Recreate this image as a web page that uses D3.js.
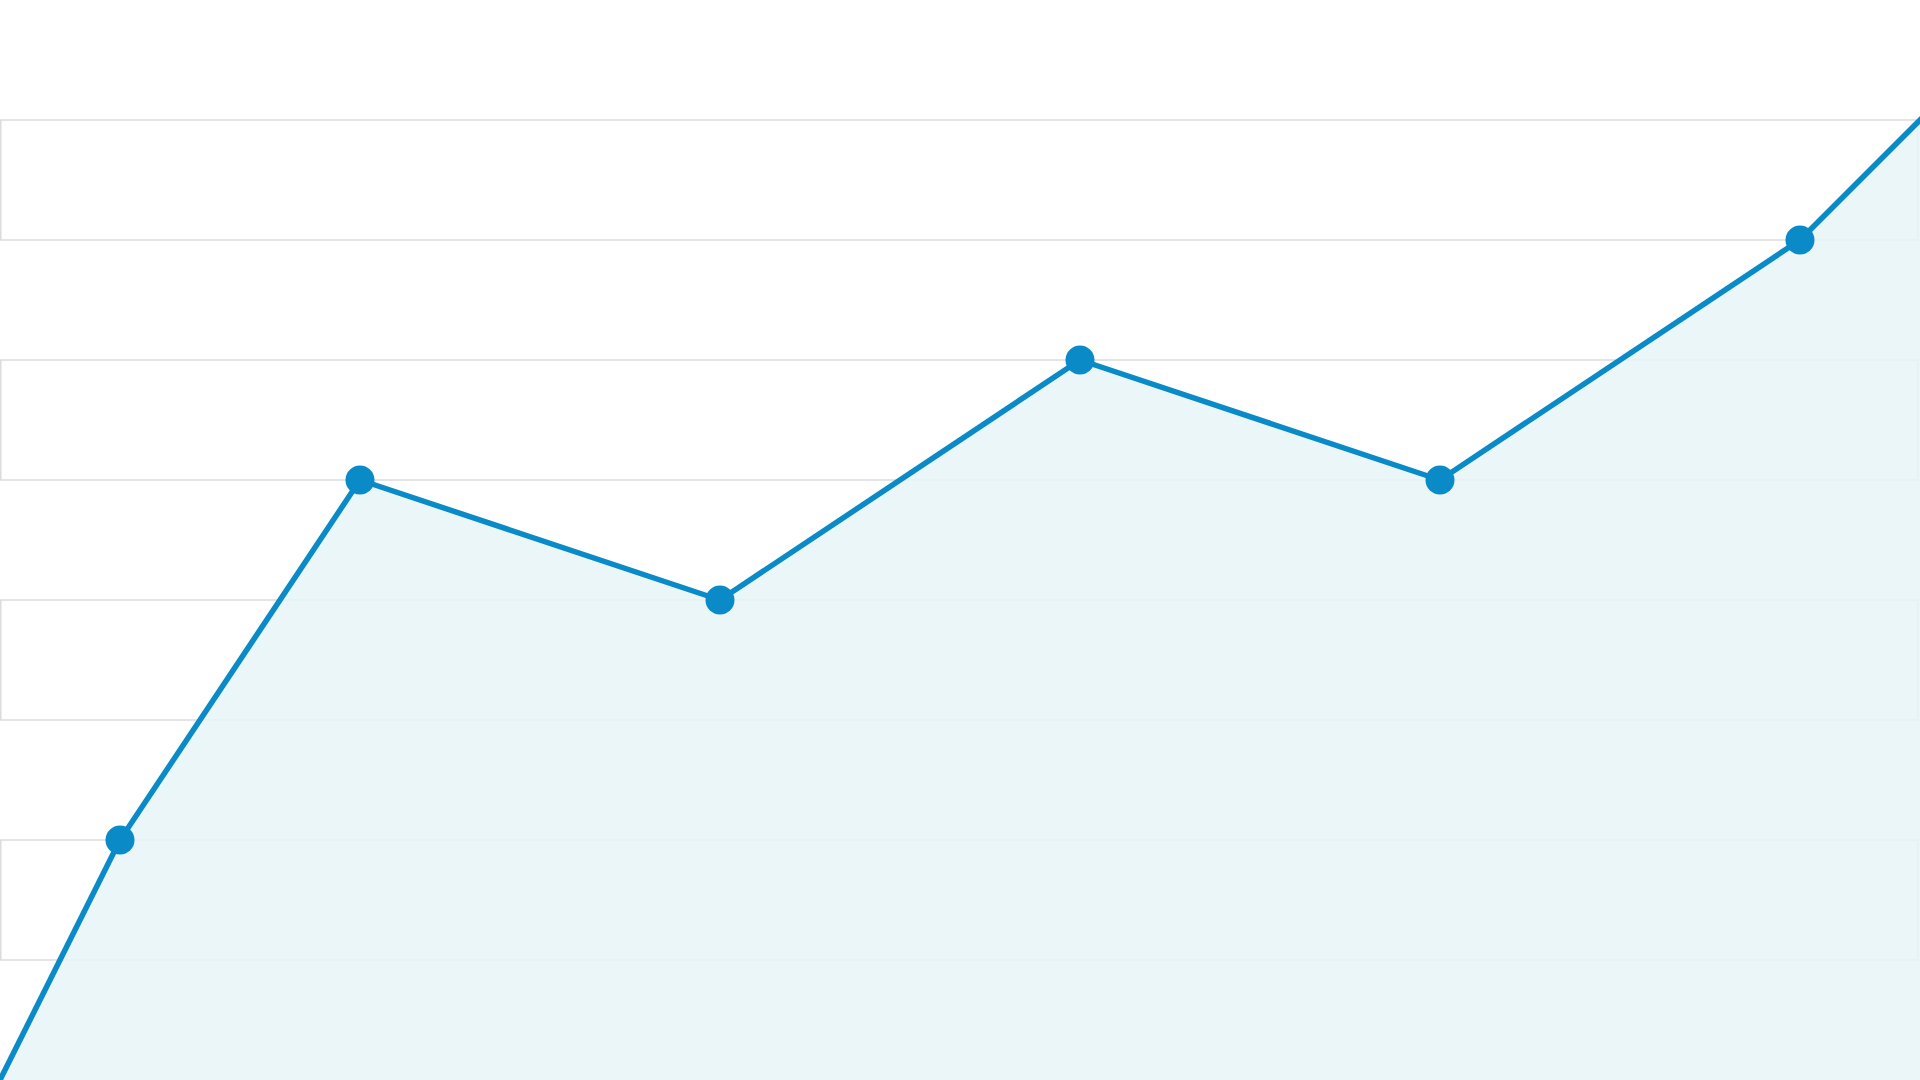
<!DOCTYPE html>
<html>
<head>
<meta charset="utf-8">
<script src="https://cdn.jsdelivr.net/npm/d3@7"></script>
<style>
html, body { margin: 0; padding: 0; background: #ffffff; overflow: hidden; }
</style>
</head>
<body>
<div id="chart"></div>
<script>
// x position of each sample (the first and last ones lie outside the visible plot)
var xValues = [-1, 1, 3, 6, 9, 12, 15, 17];
var yValues = [-20, 20, 50, 40, 60, 50, 70, 90];
// samples that get a dot
var dotIndex = [1, 2, 3, 4, 5, 6];
var yTicks = [10, 20, 30, 40, 50, 60, 70, 80];
// stripe bands drawn as outlined rectangles
var bandStarts = [10, 30, 50, 70];

function drawAreaChart(id) {
	var w = 1920;
	var h = 1080;

	var x = d3.scaleLinear().domain([0, 16]).range([0, w]);
	var y = d3.scaleLinear().domain([0, 90]).range([h, 0]);

	var data = xValues.map(function(d, i) { return {x: d, y: yValues[i]}; });

	var svg = d3.select("#" + id).append("svg")
	.attr("width", w)
	.attr("height", h)
	.style("display", "block");

	svg.append("defs").append("clipPath")
	.attr("id", "plotClip")
	.append("rect")
	.attr("x", 0).attr("y", 0)
	.attr("width", w).attr("height", h);

	// grid bands
	var step = yTicks[1] - yTicks[0];
	svg.append("g")
	.attr("class", "bands")
	.selectAll("rect")
	.data(bandStarts).enter()
	.append("rect")
	.attr("x", 0.75)
	.attr("y", function(d) { return y(d + step); })
	.attr("width", w - 3)
	.attr("height", function(d) { return y(d) - y(d + step); })
	.attr("fill", "#ffffff")
	.attr("stroke", "#dcdcdc")
	.attr("stroke-width", 1.5);

	var plot = svg.append("g").attr("clip-path", "url(#plotClip)");

	var area = d3.area()
		.x(function(d) { return x(d.x); })
		.y0(y(0))
		.y1(function(d) { return y(d.y); });

	var line = d3.line()
		.x(function(d) { return x(d.x); })
		.y(function(d) { return y(d.y); });

	plot.append("path")
	.datum(data)
	.attr("d", area)
	.attr("fill", "#e7f4f8")
	.attr("fill-opacity", 0.85);

	plot.append("path")
	.datum(data)
	.attr("d", line)
	.attr("fill", "none")
	.attr("stroke", "#0a8ac7")
	.attr("stroke-width", 5.5)
	.attr("stroke-linejoin", "round");

	plot.selectAll(".dot")
	.data(dotIndex.map(function(i) { return data[i]; })).enter()
	.append("circle")
	.attr("class", "dot")
	.attr("cx", function(d) { return x(d.x); })
	.attr("cy", function(d) { return y(d.y); })
	.attr("r", 14.5)
	.attr("fill", "#0a8ac7");

	return svg.node();
}

drawAreaChart("chart");
</script>
</body>
</html>
